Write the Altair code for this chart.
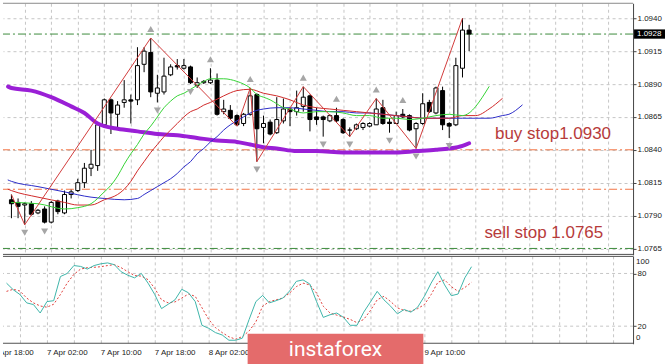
import altair as alt
import pandas as pd

# ---------------- data (EURUSD H1) ----------------
opens = [1.0802, 1.0800, 1.0798, 1.0799, 1.0792, 1.0795, 1.0785, 1.0801, 1.0792, 1.0806,
         1.0809, 1.0815, 1.0826, 1.0828, 1.0859, 1.0878, 1.0867, 1.0876, 1.0878, 1.0878,
         1.0905, 1.0914, 1.0883, 1.0884, 1.0897, 1.0904, 1.0902, 1.0903, 1.0889, 1.0891,
         1.0891, 1.0893, 1.0869, 1.0870, 1.0866, 1.0860, 1.0867, 1.0882, 1.0857, 1.0861,
         1.0853, 1.0862, 1.0871, 1.0869, 1.0873, 1.0881, 1.0865, 1.0865, 1.0862, 1.0866,
         1.0863, 1.0855, 1.0856, 1.0857, 1.0858, 1.0859, 1.0872, 1.0861, 1.0860, 1.0867,
         1.0866, 1.0856, 1.0860, 1.0876, 1.0868, 1.0885, 1.0860, 1.0859, 1.0902, 1.0931]
highs = [1.0806, 1.0803, 1.0800, 1.0801, 1.0795, 1.0797, 1.0801, 1.0802, 1.0809, 1.0810,
         1.0818, 1.0830, 1.0840, 1.0861, 1.0879, 1.0879, 1.0877, 1.0893, 1.0882, 1.0918,
         1.0918, 1.0925, 1.0897, 1.0910, 1.0905, 1.0909, 1.0909, 1.0904, 1.0895, 1.0893,
         1.0902, 1.0898, 1.0878, 1.0874, 1.0867, 1.0868, 1.0887, 1.0883, 1.0866, 1.0863,
         1.0880, 1.0879, 1.0872, 1.0885, 1.0888, 1.0882, 1.0872, 1.0866, 1.0867, 1.0872,
         1.0864, 1.0857, 1.0860, 1.0861, 1.0861, 1.0879, 1.0878, 1.0864, 1.0869, 1.0871,
         1.0867, 1.0861, 1.0883, 1.0878, 1.0888, 1.0888, 1.0861, 1.0910, 1.0940, 1.0935]
lows = [1.0788, 1.0788, 1.0783, 1.0790, 1.0791, 1.0784, 1.0784, 1.0791, 1.0791, 1.0803,
        1.0808, 1.0811, 1.0820, 1.0824, 1.0858, 1.0852, 1.0857, 1.0872, 1.0860, 1.0874,
        1.0899, 1.0880, 1.0876, 1.0882, 1.0896, 1.0901, 1.0901, 1.0890, 1.0887, 1.0890,
        1.0890, 1.0866, 1.0867, 1.0863, 1.0858, 1.0858, 1.0866, 1.0831, 1.0845, 1.0851,
        1.0852, 1.0860, 1.0858, 1.0866, 1.0869, 1.0854, 1.0859, 1.0850, 1.0861, 1.0861,
        1.0852, 1.0850, 1.0855, 1.0855, 1.0857, 1.0859, 1.0859, 1.0853, 1.0860, 1.0864,
        1.0854, 1.0841, 1.0859, 1.0868, 1.0867, 1.0855, 1.0849, 1.0858, 1.0895, 1.0915]
closes = [1.0799, 1.0797, 1.0799, 1.0791, 1.0794, 1.0785, 1.0800, 1.0793, 1.0806, 1.0808,
          1.0815, 1.0826, 1.0829, 1.0859, 1.0878, 1.0868, 1.0874, 1.0878, 1.0877, 1.0904,
          1.0915, 1.0884, 1.0887, 1.0896, 1.0903, 1.0903, 1.0904, 1.0891, 1.0891, 1.0892,
          1.0893, 1.0867, 1.0871, 1.0864, 1.0859, 1.0867, 1.0881, 1.0856, 1.0860, 1.0852,
          1.0863, 1.0871, 1.0869, 1.0872, 1.0880, 1.0863, 1.0863, 1.0863, 1.0866, 1.0862,
          1.0853, 1.0855, 1.0859, 1.0860, 1.0860, 1.0871, 1.0860, 1.0860, 1.0866, 1.0865,
          1.0855, 1.0860, 1.0875, 1.0869, 1.0887, 1.0859, 1.0858, 1.0904, 1.0931, 1.0928]

# moving averages (bar index -> price); index -0.5 is the left edge of the window
ma200_k = [-0.5, 0, 3, 6, 9, 11, 13, 14, 16, 19, 22, 25, 28, 31, 34, 36, 38, 40, 43, 46, 50, 54, 58, 61, 64, 66, 68, 69]
ma200_p = [1.0888, 1.0887, 1.0885, 1.0880, 1.0873, 1.0868, 1.0860, 1.0858, 1.0856, 1.0854, 1.0852,
           1.0851, 1.0849, 1.0847, 1.0846, 1.0844, 1.0842, 1.0841, 1.0839, 1.0839, 1.0838,
           1.0838, 1.0838, 1.0839, 1.0840, 1.0841, 1.0843, 1.0845]
lips_k = [0, 4, 8, 10, 12, 14, 15, 16, 17, 18, 19, 20, 21, 22, 23, 24, 25, 26, 27, 28, 29, 30, 32, 34, 35,
          36, 37, 38, 39, 40, 41, 42, 43, 44, 46, 48, 50, 52, 54, 56, 58, 60, 62, 64, 66, 68, 69, 70, 71, 72]
lips_p = [1.0800, 1.0799, 1.0795, 1.0796, 1.0799, 1.0808, 1.0813, 1.0820, 1.0829, 1.0837,
          1.0844, 1.0852, 1.0858, 1.0865, 1.0872, 1.0877, 1.0881, 1.0883, 1.0886, 1.0889,
          1.0892, 1.0894, 1.0894, 1.0892, 1.0890, 1.0887, 1.0882, 1.0880, 1.0878, 1.0875,
          1.0872, 1.0871, 1.0869, 1.0868, 1.0869, 1.0869, 1.0868, 1.0866, 1.0866, 1.0864,
          1.0864, 1.0863, 1.0864, 1.0866, 1.0867, 1.0866, 1.0868, 1.0873, 1.0880, 1.0888]
teeth_k = [-0.5, 0, 4, 8, 10, 12, 14, 16, 17, 18, 19, 20, 21, 22, 23, 24, 25, 26, 27, 28, 29, 30, 32, 34, 36, 38,
           40, 42, 44, 46, 48, 50, 52, 54, 56, 58, 60, 62, 64, 66, 68, 70, 72, 74]
teeth_p = [1.0810, 1.0809, 1.0804, 1.0800, 1.0798, 1.0798, 1.0802, 1.0806, 1.0810, 1.0816, 1.0824,
           1.0831, 1.0838, 1.0844, 1.0850, 1.0855, 1.0860, 1.0865, 1.0869, 1.0871, 1.0874,
           1.0876, 1.0881, 1.0885, 1.0886, 1.0883, 1.0881, 1.0878, 1.0874, 1.0872, 1.0871,
           1.0870, 1.0869, 1.0868, 1.0867, 1.0866, 1.0865, 1.0864, 1.0864, 1.0864, 1.0866,
           1.0866, 1.0871, 1.0879]
jaw_k = [-0.5, 0, 4, 8, 12, 14, 17, 19, 20, 21, 22, 23, 24, 25, 26, 27, 28, 29, 30, 31, 32, 33, 34, 35, 36, 37,
         38, 40, 42, 44, 46, 48, 50, 52, 54, 56, 58, 60, 62, 64, 66, 68, 70, 72, 74, 75, 77]
jaw_p = [1.0817, 1.0816, 1.0812, 1.0808, 1.0804, 1.0803, 1.0802, 1.0803, 1.0806, 1.0809, 1.0812,
         1.0815, 1.0818, 1.0822, 1.0827, 1.0831, 1.0837, 1.0841, 1.0846, 1.0850, 1.0855,
         1.0859, 1.0862, 1.0865, 1.0868, 1.0870, 1.0871, 1.0872, 1.0872, 1.0871, 1.0870,
         1.0869, 1.0869, 1.0868, 1.0868, 1.0867, 1.0866, 1.0865, 1.0864, 1.0864, 1.0864,
         1.0864, 1.0864, 1.0864, 1.0866, 1.0867, 1.0874]

zigzag_k = [0, 2, 21, 34, 36, 37, 44, 51, 55, 61, 68]
zigzag_p = [1.0806, 1.0783, 1.0925, 1.0858, 1.0887, 1.0831, 1.0888, 1.0850, 1.0879, 1.0841, 1.0940]

fractal_up = [21, 30, 36, 44, 49, 55, 59]
fractal_down = [2, 5, 22, 27, 37, 47, 51, 57, 61, 66]

green_levels = [1.0928, 1.0765]
orange_levels = [1.0840, 1.0810]
price_ticks = [1.0765, 1.0790, 1.0815, 1.0840, 1.0865, 1.0890, 1.0915, 1.0940]
last_price = [1.0928]

notes = ["buy stop1.0930", "sell stop 1.0765"]
notes_k = [72.9, 71.3]
notes_p = [1.08484, 1.07728]

stoch_main = [69, 61.5, 56, 46.5, 44.6, 35, 48, 49, 76.5, 80,
              89, 88, 85, 89, 91, 92, 90, 82, 78, 75,
              80, 69, 56, 40, 45, 50, 62, 58, 48, 21,
              17.6, 12.7, 10, 4, 4, 6.4, 27.7, 48, 55, 46.5,
              49, 52, 60, 71, 72.7, 68, 48, 30, 33, 35,
              30, 21, 21, 36, 47.6, 59.6, 50, 42.7, 34, 39,
              36, 41.6, 54, 69, 82, 67, 54.7, 56.6, 75, 87.7]
stoch_signal = [59.6, 62, 60, 52, 46.5, 43, 41.6, 45, 56, 69,
                79, 85, 86.6, 87, 87.7, 89, 90, 86.6, 82, 77.6,
                77, 73, 63, 50, 46.5, 47.6, 52, 56.6, 54, 41,
                27.7, 18.4, 12.7, 7.9, 5.2, 8.2, 14.6, 25, 42.7, 48,
                50, 52, 57.7, 65, 69, 67, 57.7, 42.7, 35, 32.6,
                30.4, 27.7, 24, 27.7, 37.9, 50, 54, 48, 40.9, 37.9,
                37, 40, 44.6, 55.9, 70, 72.7, 65, 59.6, 64, 70]
stoch_levels = [20, 80]
stoch_edge_labels = ["100", "0"]

# time labels visible in the picture (the others sit under the watermark)
time_k = [-2, 6, 14, 22, 30, 62]
time_labels = ["6 Apr 18:00", "7 Apr 02:00", "7 Apr 10:00", "7 Apr 18:00", "8 Apr 02:00", "9 Apr 10:00"]

# ---------------- tables ----------------
n = len(opens)
candles = pd.DataFrame({"k": list(range(n)), "open": opens, "high": highs, "low": lows, "close": closes})
jaw = pd.DataFrame({"k": jaw_k, "p": jaw_p})
teeth = pd.DataFrame({"k": teeth_k, "p": teeth_p})
lips = pd.DataFrame({"k": lips_k, "p": lips_p})
ma200 = pd.DataFrame({"k": ma200_k, "p": ma200_p})
zz = pd.DataFrame({"k": zigzag_k, "p": zigzag_p})
fu = pd.DataFrame({"k": fractal_up, "p": [highs[i] for i in fractal_up]})
fd = pd.DataFrame({"k": fractal_down, "p": [lows[i] for i in fractal_down]})
glv = pd.DataFrame({"p": green_levels})
olv = pd.DataFrame({"p": orange_levels})
notes_df = pd.DataFrame({"k": notes_k, "p": notes_p, "t": notes})
tag = pd.DataFrame({"p": last_price, "t": [f"{v:.4f}" for v in last_price]})
osc = pd.DataFrame({"k": list(range(n)), "m": stoch_main, "s": stoch_signal})
osc_lv = pd.DataFrame({"v": stoch_levels})
times = pd.DataFrame({"k": time_k, "t": time_labels})
one = pd.DataFrame({"a": [0]})

# ---------------- scales / axes ----------------
W, HM, HO, HL = 631, 252, 88, 20
xs = alt.Scale(domain=[-0.52, 92.96], nice=False, zero=False)
ys = alt.Scale(domain=[1.07601, 1.09514], nice=False, zero=False)
os_ = alt.Scale(domain=[0, 100], nice=False, zero=False)
GRID = "#c6c6c6"
FONT = "Liberation Sans"
FRAME = "#505050"

xaxis = alt.Axis(values=list(range(2, 91, 4)), grid=True, gridDash=[3, 3], gridColor=GRID,
                 labels=False, ticks=False, domain=False, title=None)
yaxis = alt.Axis(orient="right", values=price_ticks, format=".4f", grid=True, gridDash=[3, 3],
                 gridColor=GRID, tickSize=3, tickColor="#444", domainColor="#444",
                 labelFontSize=8, labelFont=FONT, labelColor="#222", labelPadding=1,
                 labelOverlap=False, title=None)
oaxis = alt.Axis(orient="right", values=stoch_levels, grid=False, tickSize=3, tickColor="#444",
                 domainColor="#444", labelFontSize=8, labelFont=FONT, labelColor="#222",
                 labelPadding=1, labelOverlap=False, title=None)


def X(f):
    return alt.X(f, scale=xs, axis=xaxis)


def Y(f):
    return alt.Y(f, scale=ys, axis=yaxis)


def YO(f):
    return alt.Y(f, scale=os_, axis=oaxis)


def ma(df, color, width=1):
    return alt.Chart(df).mark_line(color=color, strokeWidth=width, interpolate="monotone",
                                   strokeCap="round").encode(x=X("k:Q"), y=Y("p:Q"))


# ---------------- main panel ----------------
wicks = alt.Chart(candles).mark_rule(color="black", strokeWidth=1).encode(
    x=X("k:Q"), y=Y("low:Q"), y2="high:Q")
bodies = alt.Chart(candles).mark_bar(size=4, stroke="black", strokeWidth=1).encode(
    x=X("k:Q"), y=Y("open:Q"), y2="close:Q",
    fill=alt.condition(alt.datum.close >= alt.datum.open, alt.value("white"), alt.value("black")))
g_lvl = alt.Chart(glv).mark_rule(strokeDash=[8, 3, 2, 3], strokeWidth=1, color="#3c8c3c").encode(y=Y("p:Q"))
o_lvl = alt.Chart(olv).mark_rule(strokeDash=[8, 3, 2, 3], strokeWidth=1, color="#f27445").encode(y=Y("p:Q"))
zz_line = alt.Chart(zz).mark_line(color="#d23c3c", strokeWidth=1).encode(x=X("k:Q"), y=Y("p:Q"))
fu_pts = alt.Chart(fu).mark_point(shape="triangle-up", filled=True, color="#a6a6a6", size=50,
                                  opacity=1, yOffset=-9).encode(x=X("k:Q"), y=Y("p:Q"))
fd_pts = alt.Chart(fd).mark_point(shape="triangle-down", filled=True, color="#a6a6a6", size=50,
                                  opacity=1, yOffset=8).encode(x=X("k:Q"), y=Y("p:Q"))
note_txt = alt.Chart(notes_df).mark_text(align="left", baseline="alphabetic", fontSize=17, font=FONT,
                                         color="#b73b3b").encode(x=X("k:Q"), y=Y("p:Q"), text="t:N")
tag_box = alt.Chart(tag).mark_point(shape="M-1,-0.3H1V0.3H-1Z", size=961, filled=True, color="black",
                                    opacity=1).encode(x=alt.value(647.5), y=Y("p:Q"))
tag_txt = alt.Chart(tag).mark_text(align="left", baseline="middle", fontSize=8, font=FONT,
                                   color="white").encode(x=alt.value(635), y=Y("p:Q"), text="t:N")
top_line = alt.Chart(one).mark_rule(color="#8a8a8a", strokeWidth=1).encode(
    x=alt.value(0), x2=alt.value(W), y=alt.value(0))
bot_line = alt.Chart(one).mark_rule(color=FRAME, strokeWidth=1).encode(
    x=alt.value(0), x2=alt.value(W), y=alt.value(HM - 0.5))

main = alt.layer(
    wicks, g_lvl, o_lvl, bodies,
    ma(ma200, "#9a1fd6", 4), ma(jaw, "#2c2cc8"), ma(teeth, "#d02a2a"), ma(lips, "#36d336"),
    zz_line, fu_pts, fd_pts, note_txt, tag_box, tag_txt, top_line, bot_line
).properties(width=W, height=HM)

# ---------------- stochastic panel ----------------
o_grid = alt.Chart(osc_lv).mark_rule(strokeDash=[3, 3], color=GRID, strokeWidth=1).encode(y=YO("v:Q"))
o_main = alt.Chart(osc).mark_line(color="#3fb5aa", strokeWidth=1).encode(x=X("k:Q"), y=YO("m:Q"))
o_sig = alt.Chart(osc).mark_line(color="#e0403c", strokeWidth=1, strokeDash=[2, 2]).encode(
    x=X("k:Q"), y=YO("s:Q"))
# the terminal prints its 100 / 0 scale labels just inside the panel's top and bottom edges
o_100 = alt.Chart(one).mark_text(text=stoch_edge_labels[0], align="left", baseline="top", fontSize=8,
                                 font=FONT, color="#222").encode(x=alt.value(634), y=alt.value(2))
o_0 = alt.Chart(one).mark_text(text=stoch_edge_labels[1], align="left", baseline="middle", fontSize=8,
                               font=FONT, color="#222", dx=1).encode(x=alt.value(633), y=alt.value(HO - 6))
o_top = alt.Chart(one).mark_rule(color=FRAME, strokeWidth=1).encode(
    x=alt.value(0), x2=alt.value(W), y=alt.value(0.5))
o_bot = alt.Chart(one).mark_rule(color=FRAME, strokeWidth=1).encode(
    x=alt.value(0), x2=alt.value(W), y=alt.value(HO - 0.5))
oscp = alt.layer(o_grid, o_sig, o_main, o_top, o_bot, o_100, o_0).properties(width=W, height=HO)

# ---------------- time labels + watermark ----------------
lab = alt.Chart(times).mark_text(align="left", baseline="middle", fontSize=8, font=FONT, color="#222",
                                 clip=True).encode(
    x=alt.X("k:Q", scale=xs, axis=None), y=alt.value(8), text="t:N")
logo = alt.Chart(one).mark_rect(color="#e46b6b", clip=False).encode(
    x=alt.value(245), x2=alt.value(421), y=alt.value(-11), y2=alt.value(HL))
logo_txt = alt.Chart(one).mark_text(text="instaforex", fontSize=21, font="Roboto", color="white",
                                    baseline="middle", align="center").encode(
    x=alt.value(333), y=alt.value(5))
labp = alt.layer(lab, logo, logo_txt).properties(width=W, height=HL)

chart = alt.vconcat(main, oscp, labp, spacing=1, bounds="flush").properties(
    padding={"left": 0, "top": 2, "right": 0, "bottom": 0}, background="white"
).configure_view(stroke=None)

chart.save("out.html", embed_options={"renderer": "svg", "actions": False})
